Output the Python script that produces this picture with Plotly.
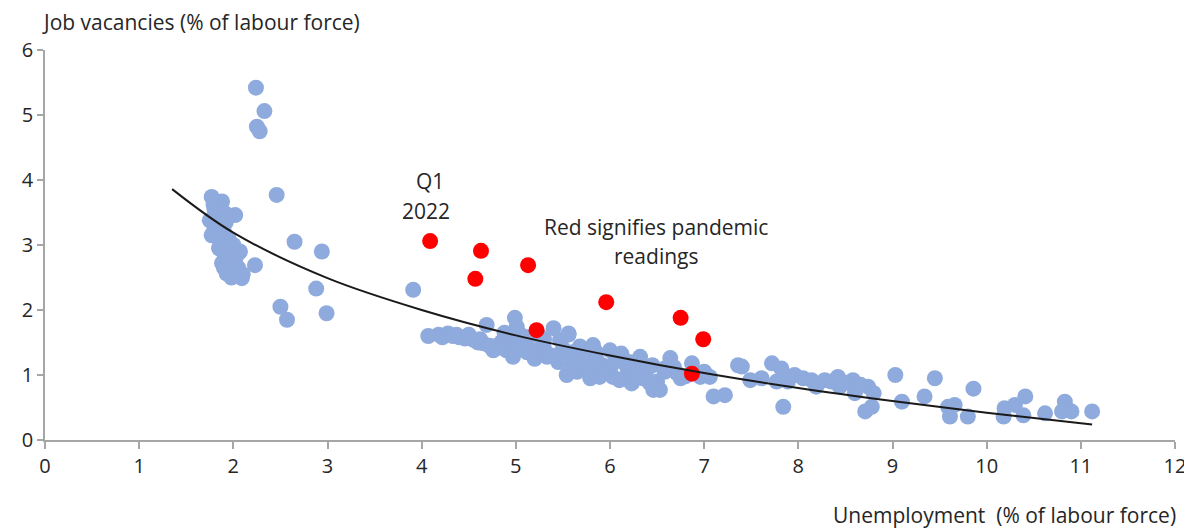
import plotly.graph_objects as go

# Blue points: pre-pandemic readings (unemployment %, vacancies %)
blue_x = [2.24, 2.33, 2.25, 2.28, 2.46,
          1.77, 1.88, 1.79, 2.02, 1.91, 1.75, 1.77, 1.86, 1.96, 2.07, 1.91, 1.88, 2.00, 1.96, 1.93, 2.09, 2.23,
          1.82, 1.98, 2.04, 1.85, 1.94,
          1.80, 1.85, 1.80, 1.90, 1.95, 1.85, 1.95, 2.02, 1.90, 2.05, 1.98, 2.10, 1.92, 2.00,
          2.65, 2.94, 2.88, 2.50, 2.57, 2.99, 3.91,
          4.07, 4.18, 4.28, 4.37, 4.46, 4.55, 4.65, 4.69, 4.76, 4.85, 4.99, 5.01, 4.97, 5.08, 4.90,
          5.40, 5.47, 5.56, 5.54, 5.54, 5.29, 5.22, 5.33, 4.22, 4.33, 4.60, 4.80, 5.10, 5.15, 5.05,
          4.40, 4.50, 4.62, 4.72, 4.82, 4.92, 5.02, 5.12, 5.20, 5.30, 5.38, 5.45, 5.50, 5.60, 5.65,
          5.72, 5.80, 5.85, 5.92, 6.00, 6.08, 6.15, 6.20, 6.30, 6.35, 6.45, 6.50, 6.58, 6.68, 6.75,
          6.90, 7.00, 5.25, 5.12, 4.95, 4.88, 5.30,
          5.56, 5.52, 5.68, 5.75, 5.82, 5.86, 5.89, 6.00, 6.03, 6.12, 6.18, 6.23, 6.32, 6.39, 6.46, 6.53,
          6.64, 6.71, 6.87, 6.96, 7.06, 7.10, 7.22, 7.36, 7.49,
          5.79, 6.10, 6.42, 5.63, 5.95, 6.27, 5.70, 6.05, 5.60, 6.58, 6.80,
          7.40, 7.61, 7.72, 7.82, 7.77, 7.89, 7.96, 7.84, 8.14, 8.19, 8.28, 8.42, 8.44, 8.58, 8.60, 8.74, 8.80,
          8.71, 8.78, 8.35, 8.50, 8.66, 8.05,
          9.03, 9.10, 9.34, 9.45, 9.59, 9.61, 9.66, 9.80, 9.86,
          10.19, 10.18, 10.30, 10.41, 10.39, 10.62, 10.83, 10.87, 10.80, 10.90, 11.12]
blue_y = [5.42, 5.06, 4.82, 4.75, 3.77,
          3.74, 3.67, 3.62, 3.46, 3.49, 3.38, 3.15, 3.05, 2.95, 2.90, 2.82, 2.72, 2.77, 2.62, 2.56, 2.49, 2.69,
          3.55, 3.00, 2.85, 2.95, 2.70,
          3.55, 3.40, 3.25, 3.20, 3.10, 2.95, 2.85, 2.80, 2.65, 2.65, 2.50, 2.55, 3.35, 3.00,
          3.05, 2.90, 2.33, 2.05, 1.85, 1.95, 2.31,
          1.60, 1.62, 1.64, 1.62, 1.56, 1.54, 1.49, 1.77, 1.38, 1.51, 1.88, 1.74, 1.28, 1.44, 1.38,
          1.72, 1.54, 1.64, 1.23, 1.00, 1.49, 1.36, 1.28, 1.58, 1.60, 1.50, 1.45, 1.55, 1.40, 1.62,
          1.58, 1.62, 1.55, 1.45, 1.42, 1.50, 1.45, 1.35, 1.25, 1.40, 1.30, 1.20, 1.40, 1.30, 1.05,
          1.25, 1.10, 1.35, 1.15, 1.05, 1.22, 0.95, 1.20, 1.10, 0.95, 1.15, 0.90, 1.05, 1.12, 0.95,
          1.05, 1.05, 1.60, 1.58, 1.60, 1.65, 1.55,
          1.62, 1.28, 1.44, 1.13, 1.46, 1.23, 0.97, 1.38, 0.97, 1.33, 1.13, 0.87, 1.28, 1.08, 0.77, 0.77,
          1.26, 1.03, 1.18, 0.97, 0.97, 0.67, 0.69, 1.15, 0.92,
          0.95, 0.92, 0.88, 1.15, 1.08, 1.00, 1.30, 1.20, 1.35, 1.10, 0.98,
          1.13, 0.95, 1.18, 1.10, 0.90, 0.90, 1.00, 0.51, 0.92, 0.82, 0.92, 0.97, 0.82, 0.92, 0.72, 0.82, 0.72,
          0.44, 0.51, 0.90, 0.88, 0.85, 0.95,
          1.00, 0.59, 0.67, 0.95, 0.51, 0.36, 0.54, 0.36, 0.79,
          0.49, 0.36, 0.54, 0.67, 0.38, 0.41, 0.59, 0.46, 0.44, 0.44, 0.44]

# Red points: pandemic readings
red_x = [4.09, 4.63, 4.57, 5.13, 5.96, 6.75, 6.99, 5.22, 6.87]
red_y = [3.06, 2.91, 2.48, 2.69, 2.12, 1.88, 1.55, 1.69, 1.02]

# Trend line
trend_x = [1.35, 2, 3, 4, 5, 6, 7, 8, 9, 10, 11.12]
trend_y = [3.86, 3.19, 2.49, 2.00, 1.61, 1.30, 1.03, 0.80, 0.60, 0.42, 0.24]

x_ticks = list(range(0, 13))
y_ticks = list(range(0, 7))

FONT = "Open Sans"
TXT = "#262626"
AXC = "#a6a6a6"
FS = 21
FT = 20

fig = go.Figure()
fig.add_trace(go.Scatter(x=blue_x, y=blue_y, mode="markers",
                         marker=dict(size=16, color="#8faadc", line=dict(width=0)),
                         showlegend=False, hoverinfo="x+y"))
fig.add_trace(go.Scatter(x=red_x, y=red_y, mode="markers",
                         marker=dict(size=16, color="#ff0000", line=dict(width=0)),
                         showlegend=False, hoverinfo="x+y"))
fig.add_trace(go.Scatter(x=trend_x, y=trend_y, mode="lines",
                         line=dict(color="#1a1a1a", width=2, shape="spline"),
                         showlegend=False, hoverinfo="skip"))

# page body has an 8px margin, so the figure is 8px smaller and shifted
fig.update_layout(
    width=1184, height=520,
    margin=dict(l=37, r=17, t=42, b=88),
    paper_bgcolor="white", plot_bgcolor="white",
    font=dict(family=FONT, size=FS, color=TXT),
    xaxis=dict(range=[0, 12], tickvals=x_ticks, showgrid=False, zeroline=False,
               showline=True, linecolor=AXC, linewidth=1.5, automargin=False,
               ticks="outside", ticklen=7, tickcolor=AXC, tickwidth=1.5,
               tickfont=dict(size=FT, color=TXT, family=FONT)),
    yaxis=dict(range=[0, 6], tickvals=y_ticks, showgrid=False, zeroline=False,
               showline=True, linecolor=AXC, linewidth=1.5, automargin=False,
               ticks="outside", ticklen=6, tickcolor=AXC, tickwidth=1.5,
               tickfont=dict(size=FT, color=TXT, family=FONT)),
    annotations=[
        dict(text="Job vacancies (% of labour force)", xref="paper", yref="paper",
             x=-0.0044, y=1.072, xanchor="left", yanchor="middle", showarrow=False,
             font=dict(size=FS, color=TXT, family=FONT)),
        dict(text="Unemployment  (% of labour force)", xref="paper", yref="paper",
             x=1.0027, y=-0.192, xanchor="right", yanchor="middle", showarrow=False,
             font=dict(size=FS, color=TXT, family=FONT)),
        dict(text="Q1", x=4.09, y=3.98, xref="x", yref="y", showarrow=False,
             xanchor="center", yanchor="middle", font=dict(size=FS, color=TXT, family=FONT)),
        dict(text="2022", x=4.05, y=3.52, xref="x", yref="y", showarrow=False,
             xanchor="center", yanchor="middle", font=dict(size=FS, color=TXT, family=FONT)),
        dict(text="Red signifies pandemic", x=6.49, y=3.28, xref="x", yref="y", showarrow=False,
             xanchor="center", yanchor="middle", font=dict(size=FS, color=TXT, family=FONT)),
        dict(text="readings", x=6.49, y=2.83, xref="x", yref="y", showarrow=False,
             xanchor="center", yanchor="middle", font=dict(size=FS, color=TXT, family=FONT)),
    ],
)

fig.write_html("out.html")
